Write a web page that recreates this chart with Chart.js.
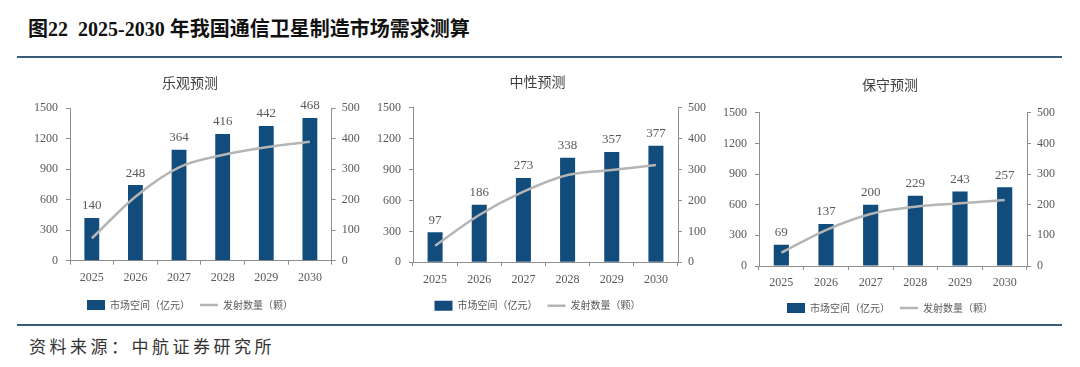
<!DOCTYPE html>
<html>
<head>
<meta charset="utf-8">
<script src="https://cdn.jsdelivr.net/npm/chart.js@4"></script>
<style>
  body { margin: 0; width: 1080px; height: 367px; background: #fff; position: relative; overflow: hidden; }
  .title { position: absolute; left: 28px; top: 13px; font: bold 20px "Liberation Serif", "Noto Sans CJK SC"; color: #111; white-space: pre; }
  .rule { position: absolute; left: 17px; width: 1045px; height: 2px; background: #3b5b7b; }
  .source { position: absolute; left: 29px; top: 333px; font: 17px "Noto Sans CJK SC"; color: #333; letter-spacing: 3.5px; }
  canvas { position: absolute; }
</style>
</head>
<body>
<div class="title">图22  2025-2030 年我国通信卫星制造市场需求测算</div>
<div class="rule" style="top:56px"></div>
<canvas id="c1" width="340" height="262" style="left:20px;top:62px"></canvas>
<canvas id="c2" width="355" height="262" style="left:360px;top:62px"></canvas>
<canvas id="c3" width="350" height="264" style="left:715px;top:62px"></canvas>
<div class="rule" style="top:324px"></div>
<div class="source">资料来源：中航证券研究所</div>
<script>
const years = ["2025", "2026", "2027", "2028", "2029", "2030"];
const leftTicks = [0, 300, 600, 900, 1200, 1500];
const rightTicks = [0, 100, 200, 300, 400, 500];

// 市场空间（亿元）, shown as bar labels, on the right axis
const marketOpt = [140, 248, 364, 416, 442, 468];
const marketMid = [97, 186, 273, 338, 357, 377];
const marketCon = [69, 137, 200, 229, 243, 257];

// 发射数量（颗）, grey line on the left axis
const launchOpt = [220, 630, 919, 1040, 1116, 1171];
const launchMid = [161, 459, 685, 847, 896, 944];
const launchCon = [130, 352, 509, 580, 613, 646];

const barColor = "#124c7c";
const lineColor = "#b5b5b5";
const axisColor = "#8f8f8f";
const textColor = "#595959";

const barLabels = {
  id: "barLabels",
  afterDatasetsDraw(chart) {
    const ctx = chart.ctx;
    const meta = chart.getDatasetMeta(0);
    ctx.save();
    ctx.font = '13px "Liberation Serif"';
    ctx.fillStyle = textColor;
    ctx.textAlign = "center";
    ctx.textBaseline = "middle";
    meta.data.forEach((bar, i) => {
      ctx.fillText(chart.data.datasets[0].data[i], bar.x, bar.y - 12);
    });
    ctx.restore();
  }
};

function makeChart(id, name, market, launch, p) {
  const H = document.getElementById(id).height;
  new Chart(document.getElementById(id), {
    type: "bar",
    data: {
      labels: years,
      datasets: [
        {
          type: "bar",
          label: "市场空间（亿元）",
          data: market,
          yAxisID: "y1",
          backgroundColor: barColor,
          pointStyle: "rect",
          categoryPercentage: 1,
          barPercentage: 0.34,
          order: 1,
        },
        {
          type: "line",
          label: "发射数量（颗）",
          data: launch,
          yAxisID: "y",
          borderColor: lineColor,
          backgroundColor: lineColor,
          borderWidth: 2.5,
          pointRadius: 0,
          pointStyle: "line",
          tension: 0.4,
          cubicInterpolationMode: "monotone",
          order: 0,
        },
      ],
    },
    options: {
      responsive: false,
      animation: false,
      layout: { padding: { left: 0, right: 0, top: 0, bottom: H - (p.legendY + 15) } },
      plugins: {
        title: {
          display: true,
          text: name,
          color: "#404040",
          font: { family: "Noto Sans CJK SC", size: 14, weight: "normal" },
          padding: { top: p.titleY - 8.4, bottom: p.top - p.titleY - 8.4 },
        },
        legend: {
          position: "bottom",
          labels: {
            usePointStyle: true,
            pointStyleWidth: 18,
            boxHeight: 10,
            padding: 10,
            color: textColor,
            font: { family: "Noto Sans CJK SC", size: 10 },
            sort: (a, b) => a.datasetIndex - b.datasetIndex,
          },
        },
        tooltip: { enabled: false },
      },
      scales: {
        x: {
          grid: { drawOnChartArea: false, tickLength: 4, color: axisColor },
          border: { color: axisColor },
          ticks: { color: textColor, padding: 6, font: { family: "Liberation Serif", size: 12 } },
          afterFit: (s) => { s.height = p.legendY - 15 - p.bottom; },
        },
        y: {
          position: "left",
          min: 0,
          max: 1500,
          afterBuildTicks: (s) => { s.ticks = leftTicks.map((v) => ({ value: v })); },
          grid: { drawOnChartArea: false, tickLength: 4, color: axisColor },
          border: { color: axisColor },
          ticks: { color: textColor, padding: 8, font: { family: "Liberation Serif", size: 12 }, callback: (v) => String(v) },
          afterFit: (s) => { s.width = p.leftW; },
        },
        y1: {
          position: "right",
          min: 0,
          max: 500,
          afterBuildTicks: (s) => { s.ticks = rightTicks.map((v) => ({ value: v })); },
          grid: { drawOnChartArea: false, tickLength: 4, color: axisColor },
          border: { color: axisColor },
          ticks: { color: textColor, padding: 6, font: { family: "Liberation Serif", size: 12 }, callback: (v) => String(v) },
          afterFit: (s) => { s.width = p.rightW; },
        },
      },
    },
    plugins: [barLabels],
  });
}

makeChart("c1", "乐观预测", marketOpt, launchOpt,
  { titleY: 21, top: 46.3, bottom: 198.7, legendY: 243, leftW: 50, rightW: 28.3 });
makeChart("c2", "中性预测", marketMid, launchMid,
  { titleY: 20, top: 45.7, bottom: 200.3, legendY: 243.7, leftW: 53, rightW: 37 });
makeChart("c3", "保守预测", marketCon, launchCon,
  { titleY: 23, top: 50.7, bottom: 204, legendY: 246, leftW: 44, rightW: 38 });
</script>
</body>
</html>
